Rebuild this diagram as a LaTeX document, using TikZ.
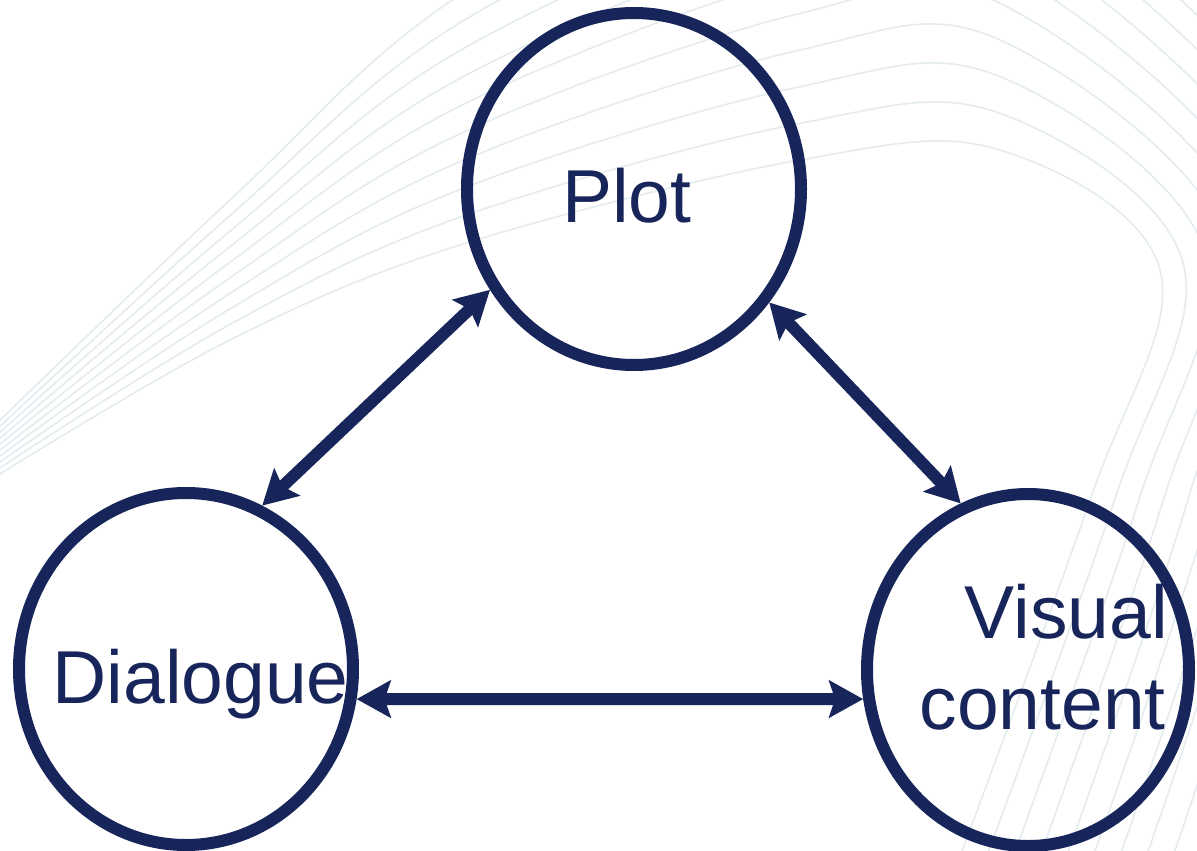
\documentclass[tikz,border=0pt]{standalone}
\usepackage{fontspec}
\setmainfont{Liberation Sans}
\usetikzlibrary{shapes.geometric,arrows.meta}
\definecolor{navy}{HTML}{17255A}
\definecolor{wave}{HTML}{E4ECF0}

\begin{document}
\begin{tikzpicture}[x=1pt,y=-1pt,
  bubble/.style={ellipse, draw=navy, line width=12pt, inner sep=0pt,
                 minimum width=334pt, minimum height=352pt},
  smallbubble/.style={bubble, minimum width=322pt},
  caption/.style={text=navy, inner sep=0pt, font=\fontsize{75}{90}\selectfont},
  link/.style={navy, line width=12pt,
               {Stealth[length=34pt,width=37pt,inset=6pt]}-{Stealth[length=34pt,width=37pt,inset=6pt]}},
  wavy/.style={draw=wave, line width=1.6pt}]
\useasboundingbox (0,0) rectangle (1197,851);
\clip (0,0) rectangle (1197,851);
\fill[white] (0,0) rectangle (1197,851);

% faint ribbon of background curves
\foreach \k in {0,...,9}{
  \pgfmathsetmacro\s{\k/9}
  \draw[wavy] plot[smooth, tension=0.6] coordinates {
    (-10,{480-50*\s})
    (230,{340-140*\s})
    (460,{245-250*\s})
    (800,{160-330*\s})
    (1000,{150-330*\s})
    ({1160+200*\s},{270-90*\s})
    ({1090+220*\s},500)
    ({955+240*\s},870)};
}

% the three themes
\node[bubble] (plot) at (634,189) {};
\node[bubble] (dialogue) at (186,669) {};
\node[smallbubble] (visual) at (1028,670) {};

\node[caption, anchor=base west] (plotlabel) at (562,222) {Plot};
\node[caption, anchor=base west] (dialoguelabel) at (52.5,703) {Dialogue};
\node[caption, anchor=base east] (visuallabel) at (1168,638) {Visual};
\node[caption, anchor=base east] (contentlabel) at (1166,729) {content};

% two-way links
\draw[link] (dialogue.65.4) -- (plot.215.7);
\draw[link] (plot.-40) -- (visual.112.5);
\draw[link] (dialogue.-10.4) -- (visual.190.3);
\end{tikzpicture}
\end{document}
